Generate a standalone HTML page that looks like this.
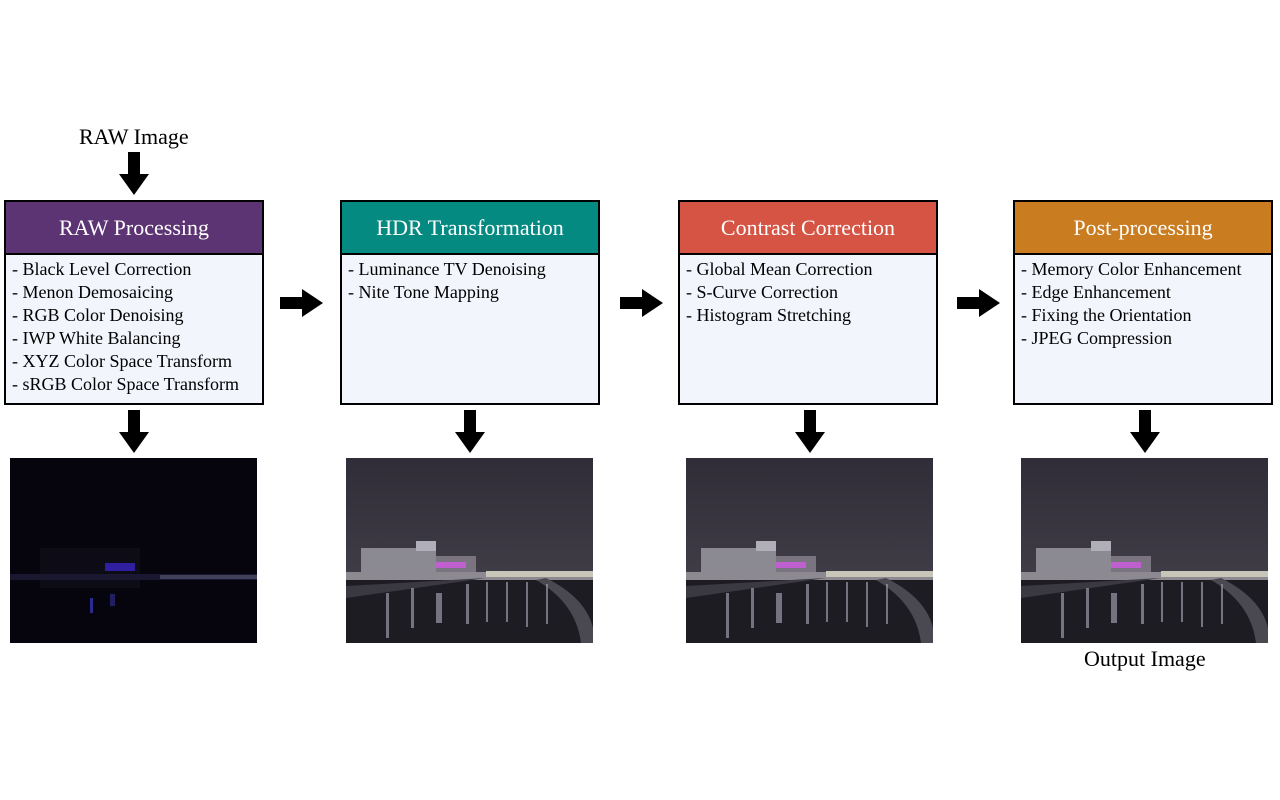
<!DOCTYPE html>
<html><head><meta charset="utf-8">
<style>
html,body{margin:0;padding:0;background:#fff;}
body{width:1280px;height:800px;position:relative;overflow:hidden;font-family:"Liberation Serif",serif;}
.box{position:absolute;top:200px;width:256px;height:201px;border:2px solid #000;background:#f2f5fc;box-sizing:content-box;}
.hd{height:51px;border-bottom:2px solid #000;color:#fff;font-size:22px;text-align:center;line-height:51px;}
.items{padding:3px 0 0 6px;font-size:18px;line-height:23px;color:#000;white-space:nowrap;}
.lbl{position:absolute;font-size:22px;color:#000;}
svg.a{position:absolute;}
.ph{position:absolute;top:458px;width:247px;height:185px;}
</style></head><body>

<div class="lbl" style="left:79px;top:124px;">RAW Image</div>
<div class="lbl" style="left:1084px;top:646px;">Output Image</div>

<div class="box" style="left:4px;"><div class="hd" style="background:#5c3473;">RAW Processing</div>
<div class="items">- Black Level Correction<br>- Menon Demosaicing<br>- RGB Color Denoising<br>- IWP White Balancing<br>- XYZ Color Space Transform<br>- sRGB Color Space Transform</div></div>

<div class="box" style="left:340px;"><div class="hd" style="background:#048a81;">HDR Transformation</div>
<div class="items">- Luminance TV Denoising<br>- Nite Tone Mapping</div></div>

<div class="box" style="left:678px;"><div class="hd" style="background:#d55444;">Contrast Correction</div>
<div class="items">- Global Mean Correction<br>- S-Curve Correction<br>- Histogram Stretching</div></div>

<div class="box" style="left:1013px;"><div class="hd" style="background:#c97c20;">Post-processing</div>
<div class="items">- Memory Color Enhancement<br>- Edge Enhancement<br>- Fixing the Orientation<br>- JPEG Compression</div></div>

<svg class="a" style="left:119px;top:152px" width="30" height="43"><polygon points="9,0 21,0 21,22 30,22 15,43 0,22 9,22" fill="#000"/></svg>
<svg class="a" style="left:119px;top:410px" width="30" height="43"><polygon points="9,0 21,0 21,22 30,22 15,43 0,22 9,22" fill="#000"/></svg>
<svg class="a" style="left:455px;top:410px" width="30" height="43"><polygon points="9,0 21,0 21,22 30,22 15,43 0,22 9,22" fill="#000"/></svg>
<svg class="a" style="left:795px;top:410px" width="30" height="43"><polygon points="9,0 21,0 21,22 30,22 15,43 0,22 9,22" fill="#000"/></svg>
<svg class="a" style="left:1130px;top:410px" width="30" height="43"><polygon points="9,0 21,0 21,22 30,22 15,43 0,22 9,22" fill="#000"/></svg>
<svg class="a" style="left:280px;top:289px" width="43" height="28"><polygon points="0,8 22,8 22,0 43,14 22,28 22,20 0,20" fill="#000"/></svg>
<svg class="a" style="left:620px;top:289px" width="43" height="28"><polygon points="0,8 22,8 22,0 43,14 22,28 22,20 0,20" fill="#000"/></svg>
<svg class="a" style="left:957px;top:289px" width="43" height="28"><polygon points="0,8 22,8 22,0 43,14 22,28 22,20 0,20" fill="#000"/></svg>

<svg class="ph" style="left:10px" viewBox="0 0 247 185">
<rect width="247" height="185" fill="#06040c"/>
<rect x="30" y="90" width="100" height="40" fill="#0d0b16"/>
<rect x="95" y="105" width="30" height="8" fill="#3020a0"/>
<rect x="0" y="116" width="247" height="6" fill="#1a1830"/>
<rect x="150" y="117" width="97" height="4" fill="#40405a"/>
<rect x="80" y="140" width="3" height="15" fill="#2a2a90"/>
<rect x="100" y="136" width="5" height="12" fill="#202060"/>
</svg>

<svg class="ph" style="left:346px" viewBox="0 0 247 185">
<defs><linearGradient id="s" x1="0" y1="0" x2="0" y2="1"><stop offset="0" stop-color="#302d38"/><stop offset="1" stop-color="#48454f"/></linearGradient></defs>
<rect width="247" height="185" fill="url(#s)"/>
<rect x="15" y="90" width="75" height="35" fill="#8b8992"/>
<rect x="70" y="83" width="20" height="10" fill="#b0aeb8"/>
<rect x="90" y="98" width="40" height="25" fill="#7a7480"/>
<rect x="90" y="104" width="30" height="6" fill="#c060d0"/>
<rect x="0" y="114" width="247" height="8" fill="#8c8a90"/>
<rect x="140" y="113" width="107" height="6" fill="#c8c6b8"/>
<rect x="0" y="122" width="247" height="63" fill="#1d1c22"/>
<polygon points="0,128 140,120 0,140" fill="#3a3840"/>
<path d="M200,120 Q240,140 247,170 L247,185 L235,185 Q230,145 190,122Z" fill="#4a4850"/>
<g fill="#9a98a8" opacity="0.7"><rect x="40" y="135" width="3" height="45"/><rect x="65" y="130" width="3" height="40"/><rect x="90" y="135" width="6" height="30"/><rect x="120" y="126" width="3" height="40"/><rect x="140" y="124" width="2" height="40"/><rect x="160" y="124" width="2" height="40"/><rect x="180" y="124" width="2" height="45"/><rect x="200" y="126" width="2" height="40"/></g>
</svg>
<svg class="ph" style="left:686px" viewBox="0 0 247 185">
<rect width="247" height="185" fill="url(#s)"/>
<rect x="15" y="90" width="75" height="35" fill="#8b8992"/>
<rect x="70" y="83" width="20" height="10" fill="#b0aeb8"/>
<rect x="90" y="98" width="40" height="25" fill="#7a7480"/>
<rect x="90" y="104" width="30" height="6" fill="#c060d0"/>
<rect x="0" y="114" width="247" height="8" fill="#8c8a90"/>
<rect x="140" y="113" width="107" height="6" fill="#c8c6b8"/>
<rect x="0" y="122" width="247" height="63" fill="#1d1c22"/>
<polygon points="0,128 140,120 0,140" fill="#3a3840"/>
<path d="M200,120 Q240,140 247,170 L247,185 L235,185 Q230,145 190,122Z" fill="#4a4850"/>
<g fill="#9a98a8" opacity="0.7"><rect x="40" y="135" width="3" height="45"/><rect x="65" y="130" width="3" height="40"/><rect x="90" y="135" width="6" height="30"/><rect x="120" y="126" width="3" height="40"/><rect x="140" y="124" width="2" height="40"/><rect x="160" y="124" width="2" height="40"/><rect x="180" y="124" width="2" height="45"/><rect x="200" y="126" width="2" height="40"/></g>
</svg>
<svg class="ph" style="left:1021px" viewBox="0 0 247 185">
<rect width="247" height="185" fill="url(#s)"/>
<rect x="15" y="90" width="75" height="35" fill="#8b8992"/>
<rect x="70" y="83" width="20" height="10" fill="#b0aeb8"/>
<rect x="90" y="98" width="40" height="25" fill="#7a7480"/>
<rect x="90" y="104" width="30" height="6" fill="#c060d0"/>
<rect x="0" y="114" width="247" height="8" fill="#8c8a90"/>
<rect x="140" y="113" width="107" height="6" fill="#c8c6b8"/>
<rect x="0" y="122" width="247" height="63" fill="#1d1c22"/>
<polygon points="0,128 140,120 0,140" fill="#3a3840"/>
<path d="M200,120 Q240,140 247,170 L247,185 L235,185 Q230,145 190,122Z" fill="#4a4850"/>
<g fill="#9a98a8" opacity="0.7"><rect x="40" y="135" width="3" height="45"/><rect x="65" y="130" width="3" height="40"/><rect x="90" y="135" width="6" height="30"/><rect x="120" y="126" width="3" height="40"/><rect x="140" y="124" width="2" height="40"/><rect x="160" y="124" width="2" height="40"/><rect x="180" y="124" width="2" height="45"/><rect x="200" y="126" width="2" height="40"/></g>
</svg>

</body></html>
